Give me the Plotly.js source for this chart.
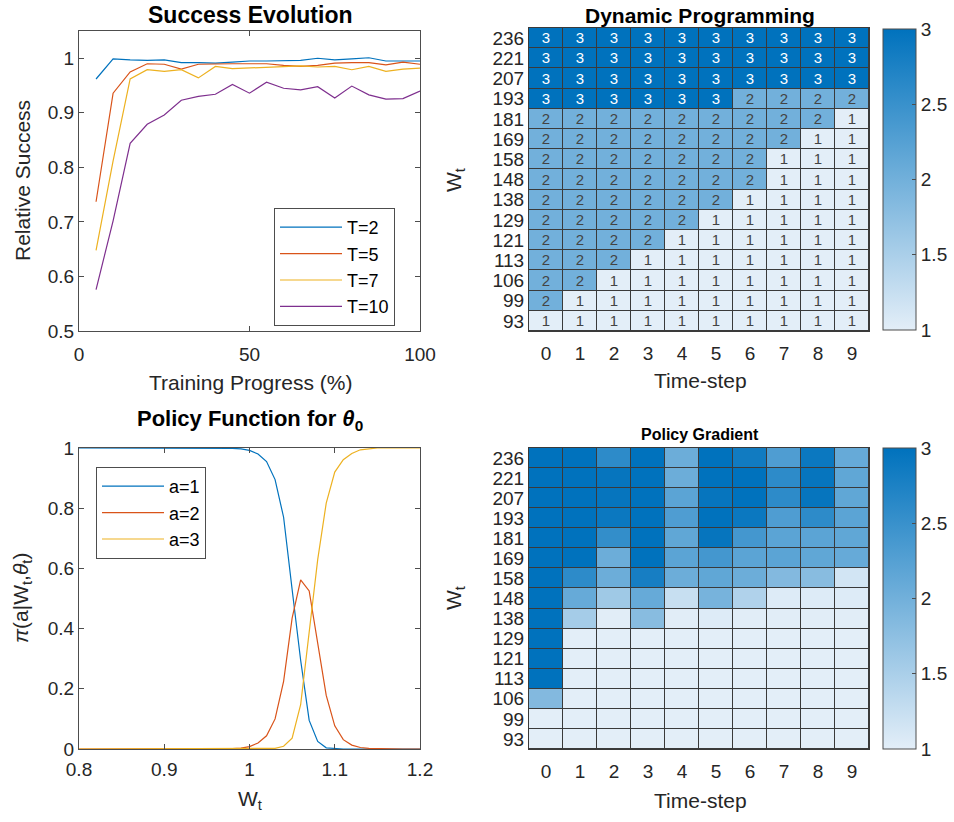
<!DOCTYPE html>
<html>
<head>
<meta charset="utf-8">
<script src="https://cdn.plot.ly/plotly-3.0.1.min.js"></script>
<style>html,body{margin:0;padding:0;background:#fff;overflow:hidden;}#chart{width:954px;height:822px;}</style>
</head>
<body>
<div id="chart"></div>
<script>
// ---------- Success Evolution ----------
const progress = [5,10,15,20,25,30,35,40,45,50,55,60,65,70,75,80,85,90,95,100];
const succT2  = [0.962,0.999,0.997,0.996,0.997,0.992,0.992,0.991,0.993,0.995,0.995,0.996,0.996,1.000,0.997,0.999,1.001,0.995,0.995,0.995];
const succT5  = [0.737,0.936,0.975,0.990,0.989,0.980,0.989,0.990,0.990,0.990,0.990,0.987,0.985,0.987,0.991,0.992,0.992,0.988,0.993,0.989];
const succT7  = [0.648,0.812,0.962,0.979,0.976,0.979,0.964,0.985,0.981,0.982,0.984,0.985,0.986,0.984,0.985,0.979,0.985,0.976,0.980,0.982];
const succT10 = [0.576,0.702,0.844,0.879,0.896,0.923,0.930,0.934,0.952,0.936,0.956,0.945,0.942,0.948,0.927,0.949,0.933,0.925,0.926,0.940];

// ---------- Policy Function ----------
const wt = [0.80,0.81,0.82,0.83,0.84,0.85,0.86,0.87,0.88,0.89,0.90,0.91,0.92,0.93,0.94,0.95,0.96,0.97,0.98,0.99,
            1.00,1.01,1.02,1.03,1.04,1.05,1.06,1.07,1.08,1.09,1.10,1.11,1.12,1.13,1.14,1.15,1.16,1.17,1.18,1.19,1.20];
const piA1 = [1,1,1,1,1,1,1,1,1,1,1,1,1,1,1,1,1,1,0.999,0.997,
              0.992,0.980,0.955,0.895,0.770,0.530,0.295,0.095,0.025,0.004,0.001,0,0,0,0,0,0,0,0,0,0];
const piA2 = [0,0,0,0,0,0,0,0,0,0,0,0,0,0,0,0,0,0,0.001,0.003,
              0.008,0.020,0.044,0.100,0.225,0.435,0.562,0.525,0.345,0.178,0.077,0.031,0.013,0.005,0.002,0.001,0,0,0,0,0];
const piA3 = [0,0,0,0,0,0,0,0,0,0,0,0,0,0,0,0,0,0,0,0,
              0,0,0.001,0.002,0.009,0.036,0.147,0.380,0.629,0.817,0.920,0.961,0.982,0.994,0.998,1,1,1,1,1,1];

// ---------- Heatmaps ----------
const timeSteps = [0,1,2,3,4,5,6,7,8,9];
const wLabels = ['236','221','207','193','181','169','158','148','138','129','121','113','106','99','93'];
const dpPolicy = [
  [3,3,3,3,3,3,3,3,3,3],
  [3,3,3,3,3,3,3,3,3,3],
  [3,3,3,3,3,3,3,3,3,3],
  [3,3,3,3,3,3,2,2,2,2],
  [2,2,2,2,2,2,2,2,2,1],
  [2,2,2,2,2,2,2,2,1,1],
  [2,2,2,2,2,2,2,1,1,1],
  [2,2,2,2,2,2,2,1,1,1],
  [2,2,2,2,2,2,1,1,1,1],
  [2,2,2,2,2,1,1,1,1,1],
  [2,2,2,2,1,1,1,1,1,1],
  [2,2,2,1,1,1,1,1,1,1],
  [2,2,1,1,1,1,1,1,1,1],
  [2,1,1,1,1,1,1,1,1,1],
  [1,1,1,1,1,1,1,1,1,1]
];
const pgPolicy = [
  [3,3,2.6,3,2.05,3,2.85,2.3,2.9,2.1],
  [3,3,2.95,3,2.05,3,3,2.6,2.95,2.15],
  [3,3,2.95,3,2.2,2.95,3,2.6,2.95,2.15],
  [3,3,2.9,3,2.3,3,2.9,2.3,2.6,2.2],
  [3,3,2.55,3,2.15,2.95,2.4,2.2,2.2,2.15],
  [3,3,2.05,3,2.2,2.4,2.2,2.2,2.15,2.1],
  [3,2.6,2.05,2.8,2.05,2.15,2.05,1.85,1.8,1.15],
  [3,2.1,1.6,2.1,1.25,1.95,1.45,1.05,1.05,1.05],
  [3,1.55,1.02,1.8,1.02,1.05,1.02,1.02,1.02,1.02],
  [3,1,1,1,1,1,1,1,1,1],
  [3,1,1,1,1,1,1,1,1,1],
  [3,1,1,1,1,1,1,1,1,1],
  [1.85,1,1,1,1,1,1,1,1,1],
  [1,1,1,1,1,1,1,1,1,1],
  [1,1,1,1,1,1,1,1,1,1]
];

const FONT = 'Liberation Sans, Arial, Helvetica, sans-serif';
const TXT = '#262626';
const AX = '#4d4d4d';
const GRID = '#3a3a3a';
const cmap = [[0,'rgb(227,238,248)'],[1,'rgb(0,114,189)']];
const W = 954, H = 822;
const px = v => v / W;
const py = v => 1 - v / H;

const cbar = (bottomPx) => ({x:px(883), xanchor:'left', xref:'container', xpad:0, ypad:0,
  thickness:33, thicknessmode:'pixels', lenmode:'fraction', len:301/H, y:py(bottomPx), yanchor:'bottom',
  outlinewidth:1, outlinecolor:AX, tickvals:[1,1.5,2,2.5,3], ticktext:['1','1.5','2','2.5','3'],
  ticks:'inside', ticklen:4, tickcolor:AX, tickfont:{family:FONT, size:19, color:TXT}});

const traces = [
  {x: progress, y: succT2,  type:'scatter', mode:'lines', name:'T=2',  line:{color:'#0072BD', width:1.2}, xaxis:'x', yaxis:'y', legend:'legend'},
  {x: progress, y: succT5,  type:'scatter', mode:'lines', name:'T=5',  line:{color:'#D95319', width:1.2}, xaxis:'x', yaxis:'y', legend:'legend'},
  {x: progress, y: succT7,  type:'scatter', mode:'lines', name:'T=7',  line:{color:'#EDB120', width:1.2}, xaxis:'x', yaxis:'y', legend:'legend'},
  {x: progress, y: succT10, type:'scatter', mode:'lines', name:'T=10', line:{color:'#7E2F8E', width:1.2}, xaxis:'x', yaxis:'y', legend:'legend'},
  {x: wt, y: piA1, type:'scatter', mode:'lines', name:'a=1', line:{color:'#0072BD', width:1.2}, xaxis:'x3', yaxis:'y3', legend:'legend2'},
  {x: wt, y: piA2, type:'scatter', mode:'lines', name:'a=2', line:{color:'#D95319', width:1.2}, xaxis:'x3', yaxis:'y3', legend:'legend2'},
  {x: wt, y: piA3, type:'scatter', mode:'lines', name:'a=3', line:{color:'#EDB120', width:1.2}, xaxis:'x3', yaxis:'y3', legend:'legend2'},
  {x: timeSteps, y: wLabels, z: dpPolicy, type:'heatmap', xaxis:'x2', yaxis:'y2', colorscale: cmap, zmin:1, zmax:3,
   xgap:1, ygap:1, showlegend:false, texttemplate:'%{z}', textfont:{family:FONT, size:15},
   colorbar: cbar(330)},
  {x: timeSteps, y: wLabels, z: pgPolicy, type:'heatmap', xaxis:'x4', yaxis:'y4', colorscale: cmap, zmin:1, zmax:3,
   xgap:1, ygap:1, showlegend:false,
   colorbar: cbar(749)}
];

const lineAx = {showline:true, linecolor:AX, linewidth:1, mirror:'allticks', ticks:'inside', ticklen:5, tickcolor:AX,
  showgrid:false, zeroline:false, tickfont:{family:FONT, size:19, color:TXT}};
const hmAx = {showline:true, linecolor:GRID, linewidth:1, mirror:true, ticks:'', showgrid:false, zeroline:false,
  tickfont:{family:FONT, size:19, color:TXT}};

const ann = (x, y, text, size, extra) => Object.assign({xref:'paper', yref:'paper', x:px(x), y:py(y), text:text, showarrow:false,
  xanchor:'center', yanchor:'middle', font:{family:FONT, size:size, color:'#000'}}, extra || {});
const lab = (x, y, text, angle) => ann(x, y, text, 21, {textangle:angle || 0, font:{family:FONT, size:21, color:TXT}});

const layout = {
  width: W, height: H,
  margin:{l:0, r:0, t:0, b:0, autoexpand:false},
  paper_bgcolor:'#fff',
  plot_bgcolor:'#fff',
  font:{family:FONT, color:TXT},
  xaxis: Object.assign({}, lineAx, {domain:[px(79), px(420)], range:[0,100], tickvals:[0,50,100], anchor:'y', ticklabelstandoff:6}),
  yaxis: Object.assign({}, lineAx, {domain:[py(331), py(31)], range:[0.5,1.05], tickvals:[0.5,0.6,0.7,0.8,0.9,1], anchor:'x'}),
  xaxis3: Object.assign({}, lineAx, {domain:[px(79), px(420)], range:[0.8,1.2], tickvals:[0.8,0.9,1,1.1,1.2], anchor:'y3', ticklabelstandoff:3}),
  yaxis3: Object.assign({}, lineAx, {domain:[py(749), py(448)], range:[0,1], tickvals:[0,0.2,0.4,0.6,0.8,1], anchor:'x3'}),
  xaxis2: Object.assign({}, hmAx, {domain:[px(529), px(869)], anchor:'y2', type:'category', tickmode:'array', tickvals:timeSteps, ticktext:timeSteps.map(String), ticklabelstandoff:5}),
  yaxis2: Object.assign({}, hmAx, {domain:[py(331), py(28)], anchor:'x2', type:'category', autorange:'reversed', tickmode:'array', tickvals:wLabels, ticktext:wLabels}),
  xaxis4: Object.assign({}, hmAx, {domain:[px(529), px(869)], anchor:'y4', type:'category', tickmode:'array', tickvals:timeSteps, ticktext:timeSteps.map(String), ticklabelstandoff:5}),
  yaxis4: Object.assign({}, hmAx, {domain:[py(749), py(448)], anchor:'x4', type:'category', autorange:'reversed', tickmode:'array', tickvals:wLabels, ticktext:wLabels}),
  legend: {x:px(274), y:py(208), xanchor:'left', yanchor:'top', bgcolor:'#fff', bordercolor:AX, borderwidth:1,
           font:{family:FONT, size:18, color:'#000'}, itemwidth:62},
  legend2: {x:px(96), y:py(467), xanchor:'left', yanchor:'top', bgcolor:'#fff', bordercolor:AX, borderwidth:1,
           font:{family:FONT, size:18, color:'#000'}, itemwidth:62},
  shapes: [
    {type:'rect', xref:'x2 domain', yref:'y2 domain', x0:0, x1:1, y0:0, y1:1, fillcolor:GRID, line:{width:0}, layer:'below'},
    {type:'rect', xref:'x4 domain', yref:'y4 domain', x0:0, x1:1, y0:0, y1:1, fillcolor:GRID, line:{width:0}, layer:'below'}
  ],
  annotations: [
    ann(250, 15, '<b>Success Evolution</b>', 23),
    ann(700, 16, '<b>Dynamic Programming</b>', 21),
    ann(250, 420, '<b>Policy Function for <i>θ</i><sub>0</sub></b>', 22),
    ann(700, 435, '<b>Policy Gradient</b>', 16),
    lab(250, 382, 'Training Progress (%)'),
    lab(22, 181, 'Relative Success', -90),
    lab(700, 381, 'Time-step'),
    lab(455, 180, 'W<sub>t</sub>', -90),
    lab(700, 800, 'Time-step'),
    lab(455, 598, 'W<sub>t</sub>', -90),
    lab(250, 800, 'W<sub>t</sub>'),
    lab(22, 598, '<i>π</i>(a|W<sub>t</sub>,<i>θ</i><sub>t</sub>)', -90)
  ]
};

Plotly.newPlot('chart', traces, layout, {staticPlot:true, displayModeBar:false});
</script>
</body>
</html>
